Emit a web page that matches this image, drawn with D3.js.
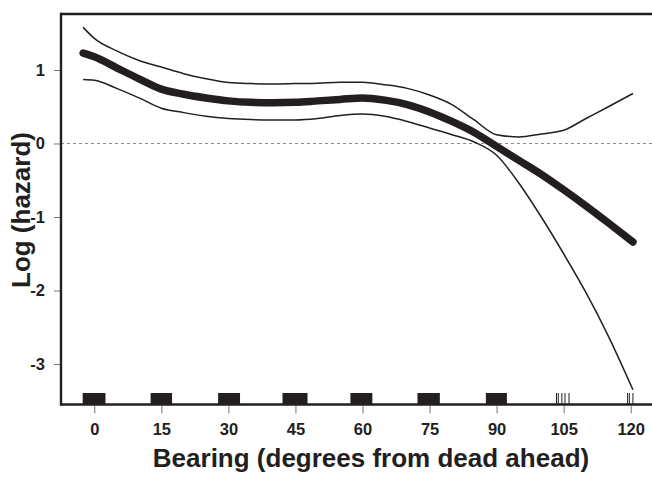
<!DOCTYPE html>
<html>
<head>
<meta charset="utf-8">
<script src="https://cdn.jsdelivr.net/npm/d3@7/dist/d3.min.js"></script>
<style>
html,body{margin:0;padding:0;background:#fff;}
svg{display:block;}
text{font-family:"Liberation Sans",Arial,sans-serif;font-weight:bold;fill:#231f20;}
</style>
</head>
<body>
<svg id="chart" width="652" height="477"></svg>
<script>
// Data
const bearing = [-2.5, 0, 5, 10, 15, 20, 25, 30, 35, 40, 45, 50, 55, 60, 65, 70, 75, 80, 85, 90, 95, 100, 105, 110, 115, 120.5];
const fitValues = [1.23, 1.18, 1.03, 0.88, 0.74, 0.67, 0.62, 0.58, 0.56, 0.555, 0.56, 0.58, 0.60, 0.62, 0.59, 0.53, 0.43, 0.30, 0.15, -0.04, -0.23, -0.42, -0.63, -0.85, -1.08, -1.34];
const upperValues = [1.58, 1.43, 1.26, 1.13, 1.04, 0.95, 0.88, 0.83, 0.815, 0.81, 0.815, 0.82, 0.835, 0.835, 0.80, 0.75, 0.66, 0.53, 0.32, 0.12, 0.09, 0.13, 0.18, 0.34, 0.50, 0.68];
const lowerValues = [0.87, 0.86, 0.75, 0.62, 0.48, 0.42, 0.37, 0.34, 0.325, 0.32, 0.32, 0.34, 0.38, 0.40, 0.37, 0.30, 0.21, 0.12, 0.02, -0.16, -0.54, -1.00, -1.50, -2.03, -2.62, -3.35];
// Rug: dense clusters of observations (ranges) and isolated observations
const rugBlocks = [[-2.6, 2.5], [12.6, 17.4], [27.7, 32.6], [42.1, 47.7], [57.3, 62.2], [72.3, 77.3], [87.6, 92.3]];
const rugLines = [103.4, 103.8, 104.6, 105.3, 106.2, 119.3, 119.7, 120.5];
const xTicks = [0, 15, 30, 45, 60, 75, 90, 105, 120];
const yTicks = [1, 0, -1, -2, -3];
const xTitle = "Bearing (degrees from dead ahead)";
const yTitle = "Log (hazard)";

(function () {
const svg = d3.select("#chart");
const ink = "#231f20";
const pLeft = 61, pTop = 14, pRight = 652, pBottom = 404.5;

const x = d3.scaleLinear().domain([0, 120]).range([94.3, 630.7]);
const y = d3.scaleLinear().domain([-3, 1]).range([364, 70]);

// zero reference line
svg.append("line")
  .attr("x1", pLeft).attr("x2", pRight)
  .attr("y1", y(0)).attr("y2", y(0))
  .attr("stroke", "#8a8a8a").attr("stroke-width", 1)
  .attr("stroke-dasharray", "3,3");

// axes via d3
const xAxis = d3.axisBottom(x).tickValues(xTicks).tickSize(8).tickPadding(10).tickFormat(d3.format("d"));
const gx = svg.append("g").attr("transform", `translate(0,${pBottom + 1})`).call(xAxis);
gx.select(".domain").remove();
gx.selectAll(".tick line").attr("stroke", "#777").attr("stroke-width", 1);
gx.selectAll(".tick text").attr("font-size", 16.5).attr("font-family", "Liberation Sans, Arial, sans-serif").attr("font-weight", "bold").attr("fill", ink);

const yAxis = d3.axisLeft(y).tickValues(yTicks).tickSize(6).tickPadding(9).tickFormat(d3.format("d"));
const gy = svg.append("g").attr("transform", `translate(${pLeft - 1},0)`).call(yAxis);
gy.select(".domain").remove();
gy.selectAll(".tick line").attr("stroke", "#777").attr("stroke-width", 1);
gy.selectAll(".tick text").attr("font-size", 16.5).attr("font-family", "Liberation Sans, Arial, sans-serif").attr("font-weight", "bold").attr("fill", ink)
  .text(d => d < 0 ? "-" + Math.abs(d) : d);

// frame lines
svg.append("line").attr("x1", pLeft).attr("x2", pRight).attr("y1", pTop).attr("y2", pTop).attr("stroke", ink).attr("stroke-width", 2.7);
svg.append("line").attr("x1", pLeft).attr("x2", pLeft).attr("y1", pTop - 1.3).attr("y2", pBottom + 1.2).attr("stroke", ink).attr("stroke-width", 2.4);
svg.append("line").attr("x1", pLeft).attr("x2", pRight).attr("y1", pBottom).attr("y2", pBottom).attr("stroke", ink).attr("stroke-width", 2.6);

// rug
svg.append("g").selectAll("rect").data(rugBlocks).join("rect")
  .attr("x", d => x(d[0])).attr("width", d => x(d[1]) - x(d[0]))
  .attr("y", 393).attr("height", pBottom - 393)
  .attr("fill", ink);
svg.append("g").selectAll("line").data(rugLines).join("line")
  .attr("x1", d => x(d)).attr("x2", d => x(d))
  .attr("y1", 393).attr("y2", pBottom)
  .attr("stroke", ink).attr("stroke-width", 1);

// curves
const line = vals => d3.line()
  .x((d, i) => x(bearing[i]))
  .y(d => y(d))
  .curve(d3.curveMonotoneX)(vals);

svg.append("path").attr("d", line(upperValues)).attr("fill", "none").attr("stroke", ink).attr("stroke-width", 1.5);
svg.append("path").attr("d", line(lowerValues)).attr("fill", "none").attr("stroke", ink).attr("stroke-width", 1.5);
svg.append("path").attr("d", line(fitValues)).attr("fill", "none").attr("stroke", ink).attr("stroke-width", 7.5).attr("stroke-linecap", "round");

// titles
svg.append("text").attr("x", 371).attr("y", 467).attr("text-anchor", "middle").attr("font-size", 26).text(xTitle);
svg.append("text").attr("transform", "translate(30,210) rotate(-90)").attr("text-anchor", "middle").attr("font-size", 26).text(yTitle);
})();
</script>
</body>
</html>
